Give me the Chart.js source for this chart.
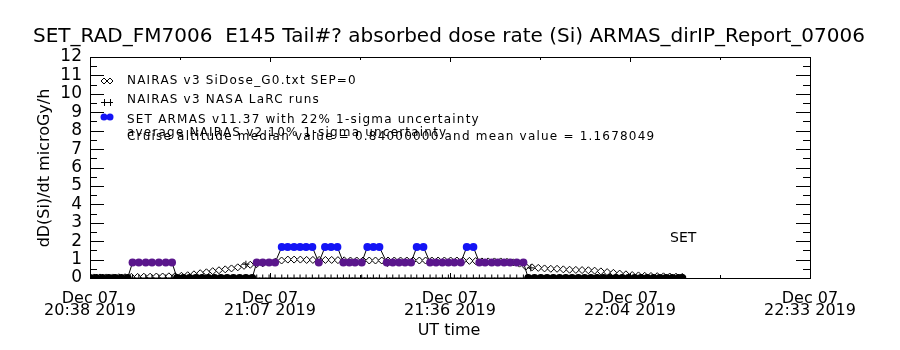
<!DOCTYPE html>
<html><head><meta charset="utf-8">
<script src="https://cdn.jsdelivr.net/npm/chart.js@4.4.1/dist/chart.umd.min.js"></script>
<style>html,body{margin:0;padding:0;background:#fff}#wrap{width:900px;height:350px;position:relative}</style>
</head><body><div id="wrap"><canvas id="c"></canvas></div>
<script>
// ---------- data (minutes after Dec 07 20:38 UT) ----------
const titleText = "SET_RAD_FM7006  E145 Tail#? absorbed dose rate (Si) ARMAS_dirIP_Report_07006";
const yTitleText = "dD(Si)/dt microGy/h";
const xTitleText = "UT time";
const xTickValues = [0, 28.75, 57.5, 86.25, 115];
const xTickLabels = [["Dec 07","20:38 2019"],["Dec 07","21:07 2019"],["Dec 07","21:36 2019"],["Dec 07","22:04 2019"],["Dec 07","22:33 2019"]];
const yTickValues = [0,1,2,3,4,5,6,7,8,9,10,11,12];

const nairasMinutes = [0.6,1.6,2.6,3.6,4.6,5.6,6.6,7.6,8.6,9.6,10.6,11.6,12.6,13.6,14.6,15.6,16.6,17.6,18.6,19.6,20.6,21.6,22.6,23.6,24.6,25.6,26.6,27.6,28.6,29.6,30.6,31.6,32.6,33.6,34.6,35.6,36.6,37.6,38.6,39.6,40.6,41.6,42.6,43.6,44.6,45.6,46.6,47.6,48.6,49.6,50.6,51.6,52.6,53.6,54.6,55.6,56.6,57.6,58.6,59.6,60.6,61.6,62.6,63.6,64.6,65.6,66.6,67.6,68.6,69.6,70.6,71.6,72.6,73.6,74.6,75.6,76.6,77.6,78.6,79.6,80.6,81.6,82.6,83.6,84.6,85.6,86.6,87.6,88.6,89.6,90.6,91.6,92.6,93.6,94.6];
const nairasDose   = [0.03,0.03,0.03,0.03,0.04,0.04,0.06,0.06,0.07,0.07,0.08,0.08,0.09,0.1,0.12,0.15,0.2,0.26,0.31,0.37,0.42,0.47,0.52,0.58,0.66,0.72,0.75,0.8,0.84,0.88,0.95,1.0,1.0,1.0,0.98,0.98,0.98,0.98,0.98,0.97,0.96,0.95,0.95,0.95,0.95,0.95,0.95,0.95,0.95,0.95,0.95,0.95,0.95,0.95,0.95,0.95,0.95,0.95,0.95,0.94,0.93,0.92,0.9,0.9,0.9,0.9,0.88,0.85,0.78,0.62,0.58,0.55,0.52,0.5,0.5,0.47,0.45,0.44,0.43,0.42,0.4,0.36,0.32,0.28,0.24,0.2,0.16,0.14,0.12,0.11,0.1,0.09,0.08,0.07,0.06];

const armasMinutes = [0,1,2,3,4,5,6,
  6.8,7.8,8.9,9.9,11.0,12.1,13.1,
  13.9,14.9,15.9,16.9,17.9,18.9,19.9,20.9,21.9,22.9,23.9,24.9,25.9,
  26.63,27.59,28.6,29.56,30.63,31.58,32.59,33.55,34.51,35.51,36.54,37.54,38.5,39.51,40.47,41.42,42.33,43.4,44.3,45.26,46.22,
  47.4,48.36,49.36,50.32,51.28,52.19,53.25,54.32,55.27,56.28,57.24,58.2,59.22,60.18,61.23,62.19,63.1,64.17,65.13,66.14,67.1,68.16,69.22,
  70,71,72,73,74,75,76,77,78,79,80,81,82,83,84,85,86,87,88,89,90,91,92,93,94,94.6];
const armasDose = [0,0,0,0,0,0,0,
  0.84,0.84,0.84,0.84,0.84,0.84,0.84,
  0,0,0,0,0,0,0,0,0,0,0,0,0,
  0.84,0.84,0.84,0.84,1.68,1.68,1.68,1.68,1.68,1.68,0.84,1.68,1.68,1.68,0.84,0.84,0.84,0.84,1.68,1.68,1.68,
  0.84,0.84,0.84,0.84,0.84,1.68,1.68,0.84,0.84,0.84,0.84,0.84,0.84,1.68,1.68,0.84,0.84,0.84,0.84,0.84,0.84,0.84,0.84,
  0,0,0,0,0,0,0,0,0,0,0,0,0,0,0,0,0,0,0,0,0,0,0,0,0,0];

// NAIRAS v3 LaRC runs: zero along the flight except three model runs
const larcMinutes = [0,1,2,3,4,5,6,
  6.8,7.8,8.9,9.9,11.0,12.1,13.1,
  13.9,14.9,15.9,16.9,17.9,18.9,19.9,20.9,21.9,22.9,23.9,24.9,25.9,
  26.63,27.59,28.6,29.56,30.63,31.58,32.59,33.55,34.51,35.51,36.54,37.54,38.5,39.51,40.47,41.42,42.33,43.4,44.3,45.26,46.22,
  47.4,48.36,49.36,50.32,51.28,52.19,53.25,54.32,55.27,56.28,57.24,58.2,59.22,60.18,61.23,62.19,63.1,64.17,65.13,66.14,67.1,68.16,69.22,
  70,71,72,73,74,75,76,77,78,79,80,81,82,83,84,85,86,87,88,89,90,91,92,93,94,94.6,
  24.9, 47.5, 70.4];
const larcDose = [0,0,0,0,0,0,0,
  0,0,0,0,0,0,0,
  0,0,0,0,0,0,0,0,0,0,0,0,0,
  0,0,0,0,0,0,0,0,0,0,0,0,0,0,0,0,0,0,0,0,0,
  0,0,0,0,0,0,0,0,0,0,0,0,0,0,0,0,0,0,0,0,0,0,0,
  0,0,0,0,0,0,0,0,0,0,0,0,0,0,0,0,0,0,0,0,0,0,0,0,0,0,
  0.75, 0.8, 0.55];

const legendLabels = ["NAIRAS v3 SiDose_G0.txt SEP=0","NAIRAS v3 NASA LaRC runs","SET ARMAS v11.37 with 22% 1-sigma uncertainty"];
const noteLabels = ["average NAIRAS v2 10% 1-sigma uncertainty","Cruise altitude median value = 0.84000000 and mean value = 1.1678049"];
const cornerLabel = "SET";

// ---------- styles ----------
const BLUE = "#1414f5", PURPLE = "#5a168c", INK = "#000";
const FONT = "'DejaVu Sans', sans-serif";
const NARROW = "'Liberation Sans Narrow', 'DejaVu Sans', sans-serif";
const armasColors = armasDose.map(v => v >= 1.5 ? BLUE : (v > 0 ? PURPLE : INK));

const pts = (xs, ys) => xs.map((x, i) => ({x, y: ys[i]}));

const frame = {
  id: 'frame',
  afterDraw(chart) {
    const {ctx, chartArea: a, scales: {x, y}} = chart;
    ctx.save();
    ctx.strokeStyle = INK; ctx.lineWidth = 1;
    ctx.strokeRect(Math.round(a.left)+0.5, Math.round(a.top)+0.5, Math.round(a.right-a.left), Math.round(a.bottom-a.top));
    ctx.beginPath();
    for (let k = 0; k <= 24; k++) {
      const v = k / 2;
      const py = Math.round(y.getPixelForValue(v)) + 0.5;
      const len = (k % 2 === 0) ? 14 : 7;
      ctx.moveTo(a.left, py); ctx.lineTo(a.left + len, py);
      ctx.moveTo(a.right, py); ctx.lineTo(a.right - len, py);
    }
    for (let k = 0; k < xTickValues.length; k++) {
      const px = Math.round(x.getPixelForValue(xTickValues[k])) + 0.5;
      ctx.moveTo(px, a.bottom); ctx.lineTo(px, a.bottom - 5);
      ctx.moveTo(px, a.top); ctx.lineTo(px, a.top + 5);
      if (k < xTickValues.length - 1) {
        const pm = Math.round(x.getPixelForValue((xTickValues[k] + xTickValues[k+1]) / 2)) + 0.5;
        ctx.moveTo(pm, a.bottom); ctx.lineTo(pm, a.bottom - 3);
        ctx.moveTo(pm, a.top); ctx.lineTo(pm, a.top + 3);
      }
    }
    ctx.stroke();

    ctx.fillStyle = INK;
    ctx.textAlign = 'center'; ctx.textBaseline = 'middle';
    ctx.font = "20px " + FONT;
    ctx.fillText(titleText, 449, 37);
    ctx.font = "16px " + FONT;
    ctx.fillText(xTitleText, 449, 331);
    ctx.save();
    ctx.translate(45, 168); ctx.rotate(-Math.PI/2);
    ctx.fillText(yTitleText, 0, 0);
    ctx.restore();

    // legend
    ctx.textAlign = 'left'; ctx.textBaseline = 'alphabetic';
    ctx.font = "12px " + FONT;
    ctx.letterSpacing = "1.2px";
    const lx = 127;
    const rows = [84, 103, 123];
    legendLabels.forEach((t, i) => ctx.fillText(t, lx, rows[i]));
    ctx.fillText(noteLabels[0], lx, 136);
    ctx.fillText(noteLabels[1], lx, 140);
    ctx.font = "14px " + FONT;
    ctx.letterSpacing = "0px";
    ctx.fillText(cornerLabel, 670, 242);
    ctx.lineWidth = 1; ctx.strokeStyle = INK;
    [104, 110].forEach(cx => {
      ctx.beginPath(); ctx.moveTo(cx, 78); ctx.lineTo(cx+3, 81); ctx.lineTo(cx, 84); ctx.lineTo(cx-3, 81); ctx.closePath(); ctx.stroke();
      ctx.beginPath(); ctx.moveTo(cx-3, 102.5); ctx.lineTo(cx+3, 102.5); ctx.moveTo(cx+0.5, 99); ctx.lineTo(cx+0.5, 106); ctx.stroke();
      ctx.beginPath(); ctx.fillStyle = BLUE; ctx.arc(cx, 117, 3.5, 0, Math.PI*2); ctx.fill();
    });
    ctx.restore();
  }
};

new Chart(document.getElementById('c'), {
  type: 'scatter',
  data: {
    datasets: [
      { label: legendLabels[2], data: pts(armasMinutes, armasDose), showLine: true, order: 0,
        borderColor: INK, borderWidth: 1, pointStyle: 'circle', pointRadius: 4,
        pointBackgroundColor: armasColors, pointBorderColor: armasColors, pointBorderWidth: 0, clip: 0 },
      { label: legendLabels[1], data: pts(larcMinutes, larcDose), showLine: false, order: 1,
        pointStyle: 'cross', pointRadius: 3.5, pointBorderColor: INK, pointBorderWidth: 1, clip: 0 },
      { label: legendLabels[0], data: pts(nairasMinutes, nairasDose), showLine: false, order: 2,
        pointStyle: 'rectRot', pointRadius: 3.5, pointBackgroundColor: '#fff', pointBorderColor: INK, pointBorderWidth: 1, clip: 0 }
    ]
  },
  options: {
    responsive: true, maintainAspectRatio: false, animation: false,
    layout: { padding: { top: 57, right: 90, left: 0, bottom: 0 } },
    plugins: { legend: { display: false }, tooltip: { enabled: false }, title: { display: false } },
    scales: {
      x: { type: 'linear', min: 0, max: 115,
        afterFit(s) { s.height = 72; },
        afterBuildTicks(s) { s.ticks = xTickValues.map(v => ({value: v})); },
        grid: { display: false, drawTicks: false },
        border: { display: false },
        ticks: { autoSkip: false, maxRotation: 0, padding: 14, color: INK,
          font: { family: FONT, size: 16, lineHeight: 0.8 },
          callback: (v, i) => xTickLabels[i] } },
      y: { type: 'linear', min: 0, max: 12,
        afterFit(s) { s.width = 90; },
        afterBuildTicks(s) { s.ticks = yTickValues.map(v => ({value: v})); },
        grid: { display: false, drawTicks: false },
        border: { display: false },
        ticks: { autoSkip: false, padding: 8, color: INK, font: { family: NARROW, size: 17 } } }
    }
  },
  plugins: [frame]
});
</script></body></html>
